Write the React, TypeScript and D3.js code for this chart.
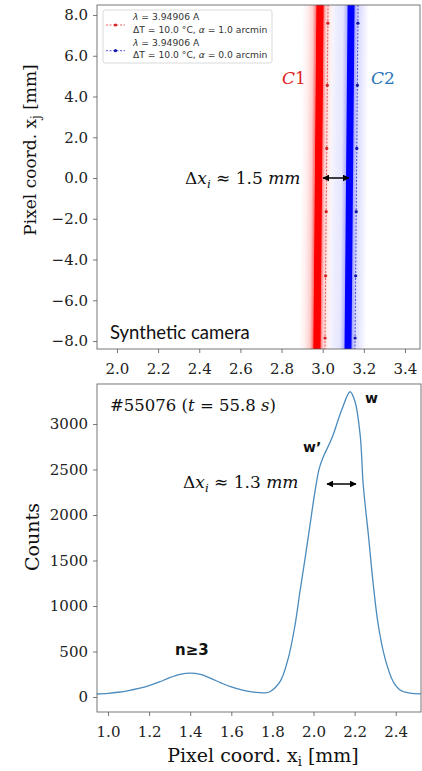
import * as d3 from 'd3'
import { useEffect, useRef } from 'react'

const W = 422
const H = 771

// top panel: synthetic camera image
const topXTicks = [2.0, 2.2, 2.4, 2.6, 2.8, 3.0, 3.2, 3.4]
const topYTicks = [-8, -6, -4, -2, 0, 2, 4, 6, 8]
const imageY = [8.49, -8.39] // top / bottom of camera image
const c1Core = [2.987, 2.972] // x of line C1 at top / bottom
const c2Core = [3.138, 3.123]
const c1Fit = [3.026, 3.011]
const c2Fit = [3.172, 3.157]
const fitMarkersY = [7.6, 4.55, 1.45, -1.65, -4.8, -7.85]
const legendRows = [
    { line1: '= 3.94906 A', line2: 'ΔT = 10.0 °C, ', alpha: '= 1.0 arcmin', color: '#e8383a', dot: '#d62020' },
    { line1: '= 3.94906 A', line2: 'ΔT = 10.0 °C, ', alpha: '= 0.0 arcmin', color: '#2a2ad0', dot: '#1515a8' },
]

// bottom panel: measured profile
const profileX = [0.946, 1.0, 1.05, 1.1, 1.15, 1.2, 1.25, 1.3, 1.35, 1.4, 1.45, 1.5, 1.55, 1.6, 1.65, 1.7,
    1.76, 1.788, 1.837, 1.877, 1.91, 1.934, 1.959, 1.983, 2.007, 2.028, 2.048, 2.089, 2.137, 2.178,
    2.202, 2.227, 2.242, 2.267, 2.291, 2.315, 2.348, 2.388, 2.421, 2.47, 2.523]
const profileCounts = [33, 40, 52, 70, 94, 125, 165, 212, 248, 263, 248, 205, 155, 110, 78, 56,
    45, 58, 168, 425, 791, 1157, 1524, 1890, 2256, 2513, 2641, 2843, 3154, 3355,
    3245, 2879, 2330, 1780, 1231, 791, 425, 168, 77, 42, 35]
const botXTicks = [1.0, 1.2, 1.4, 1.6, 1.8, 2.0, 2.2, 2.4]
const botYTicks = [0, 500, 1000, 1500, 2000, 2500, 3000]

const SERIF = '"DejaVu Serif", serif'
const SANS = '"DejaVu Sans", sans-serif'

// glow profiles of the two lines: [px offset from centre, opacity]
const redGlow = [[-18, 0], [-12, 0.07], [-7, 0.2], [-4, 0.55], [-3.2, 1], [3.2, 1], [4, 0.5], [6, 0.2], [10, 0.08], [14, 0]]
const blueGlow = [[-20, 0], [-16, 0.06], [-8, 0.1], [-4, 0.3], [-3, 1], [3, 1], [4, 0.35], [7, 0.15], [13, 0.07], [18, 0]]

const mathText = (sel, x, y, size, parts, color = '#111') => {
    const t = sel.append('text').attr('x', x).attr('y', y)
        .attr('font-family', SERIF).attr('font-size', size).attr('fill', color)
    parts.forEach(p => {
        const s = t.append('tspan').text(p.t)
        if (p.it) s.attr('font-style', 'italic')
        if (p.sub) s.attr('font-size', size * 0.7).attr('dy', size * 0.25)
        if (p.up) s.attr('dy', -size * 0.25)
    })
    return t
}

export default function App() {
    const svgRef = useRef(null)

    useEffect(() => {
        const svg = d3.select(svgRef.current)
        svg.selectAll('*').remove()
        const defs = svg.append('defs')

        defs.append('marker')
            .attr('id', 'arrow')
            .attr('viewBox', '0 0 10 10')
            .attr('refX', 9).attr('refY', 5)
            .attr('markerWidth', 7).attr('markerHeight', 7)
            .attr('markerUnits', 'userSpaceOnUse')
            .attr('orient', 'auto-start-reverse')
            .append('path').attr('d', 'M0,0L10,5L0,10z').attr('fill', '#000')

        // ---------- top panel ----------
        const tx = d3.scaleLinear().domain([1.903, 3.473]).range([97, 420])
        const ty = d3.scaleLinear().domain(imageY.slice().reverse()).range([349, 5])
        const top = svg.append('g')

        defs.append('clipPath').attr('id', 'clipTop')
            .append('rect').attr('x', 97).attr('y', 5).attr('width', 323).attr('height', 344)
        const img = top.append('g').attr('clip-path', 'url(#clipTop)')

        const bands = [
            { id: 'gC2', core: c2Core, glow: blueGlow, color: '#0000ff' },
            { id: 'gC1', core: c1Core, glow: redGlow, color: '#ff0000' },
        ]
        bands.forEach(b => {
            const hw = 22
            const grad = defs.append('linearGradient').attr('id', b.id)
            b.glow.forEach(([o, a]) => {
                grad.append('stop').attr('offset', (o + hw) / (2 * hw))
                    .attr('stop-color', b.color).attr('stop-opacity', a)
            })
            const xT = tx(b.core[0]), xB = tx(b.core[1])
            const yT = ty(imageY[0]), yB = ty(imageY[1])
            const ang = Math.atan((xT - xB) / (yT - yB)) * 180 / Math.PI
            img.append('g').attr('transform', `translate(${xB},${yB}) skewX(${ang})`)
                .append('rect')
                .attr('x', -hw).attr('y', yT - yB)
                .attr('width', 2 * hw).attr('height', yB - yT)
                .attr('fill', `url(#${b.id})`)
        })

        const fits = [
            { fit: c1Fit, color: legendRows[0].color, dot: legendRows[0].dot },
            { fit: c2Fit, color: legendRows[1].color, dot: legendRows[1].dot },
        ]
        fits.forEach(f => {
            const fx = d3.scaleLinear().domain(imageY).range(f.fit)
            img.append('line')
                .attr('x1', tx(f.fit[0])).attr('y1', ty(imageY[0]))
                .attr('x2', tx(f.fit[1])).attr('y2', ty(imageY[1]))
                .attr('stroke', f.color).attr('stroke-width', 0.8)
                .attr('stroke-dasharray', '2,1.5')
            img.selectAll(null).data(fitMarkersY).join('circle')
                .attr('cx', d => tx(fx(d))).attr('cy', d => ty(d))
                .attr('r', 1.6).attr('fill', f.dot)
        })

        top.append('rect').attr('x', 97).attr('y', 5).attr('width', 323).attr('height', 344)
            .attr('fill', 'none').attr('stroke', '#555').attr('stroke-width', 0.8)

        const styleAxis = g => {
            g.select('.domain').remove()
            g.selectAll('line').attr('stroke', '#555').attr('stroke-width', 0.8)
            g.selectAll('text').attr('fill', '#222')
            g.attr('font-family', SERIF).attr('font-size', 15)
        }

        top.append('g').attr('transform', 'translate(0,349)')
            .call(d3.axisBottom(tx).tickValues(topXTicks).tickFormat(d3.format('.1f')).tickSize(4).tickPadding(10))
            .call(styleAxis)
        top.append('g').attr('transform', 'translate(97,0)')
            .call(d3.axisLeft(ty).tickValues(topYTicks).tickFormat(d3.format('.1f')).tickSize(4).tickPadding(5))
            .call(styleAxis)

        top.append('text')
            .attr('transform', 'translate(36,150) rotate(-90)')
            .attr('text-anchor', 'middle')
            .attr('font-family', SERIF).attr('font-size', 17).attr('fill', '#111')
            .call(t => {
                t.append('tspan').text('Pixel coord. x')
                t.append('tspan').text('j').attr('font-size', 12).attr('dy', 4)
                t.append('tspan').text(' [mm]').attr('dy', -4)
            })

        // legend
        const lg = top.append('g')
        lg.append('rect').attr('x', 103).attr('y', 10).attr('width', 169).attr('height', 53)
            .attr('rx', 2).attr('fill', '#fff').attr('fill-opacity', 0.85)
            .attr('stroke', '#d0d0d0').attr('stroke-width', 0.8)
        legendRows.forEach((r, i) => {
            const cy = 25 + i * 25.7
            lg.append('line').attr('x1', 106).attr('x2', 125).attr('y1', cy).attr('y2', cy)
                .attr('stroke', r.color).attr('stroke-width', 0.8).attr('stroke-dasharray', '2,1.5')
            lg.append('circle').attr('cx', 115.5).attr('cy', cy).attr('r', 1.6).attr('fill', r.dot)
            const t1 = lg.append('text').attr('x', 133).attr('y', cy - 5)
                .attr('font-family', SANS).attr('font-size', 9.2).attr('fill', '#333')
            t1.append('tspan').text('λ ').attr('font-style', 'italic')
            t1.append('tspan').text(r.line1)
            const t2 = lg.append('text').attr('x', 133).attr('y', cy + 7.5)
                .attr('font-family', SANS).attr('font-size', 9.2).attr('fill', '#333')
            t2.append('tspan').text(r.line2)
            t2.append('tspan').text('α ').attr('font-style', 'italic')
            t2.append('tspan').text(r.alpha)
        })

        mathText(top, 282, 84, 17, [{ t: 'C', it: true }, { t: '1' }], '#e0201c')
        mathText(top, 371, 84, 17, [{ t: 'C', it: true }, { t: '2' }], '#2a74b8')

        mathText(top, 185, 184, 17, [
            { t: 'Δ' }, { t: 'x', it: true }, { t: 'i', it: true, sub: true },
            { t: ' ≈ 1.5 ', up: true }, { t: 'mm', it: true },
        ])
        top.append('line').attr('x1', 323).attr('x2', 349).attr('y1', 178).attr('y2', 178)
            .attr('stroke', '#000').attr('stroke-width', 1.5)
            .attr('marker-start', 'url(#arrow)').attr('marker-end', 'url(#arrow)')

        top.append('text').attr('x', 110).attr('y', 339)
            .attr('font-family', 'Lato, sans-serif').attr('font-size', 18.5).attr('fill', '#111')
            .text('Synthetic camera')

        // ---------- bottom panel ----------
        const bx = d3.scaleLinear().domain([0.9465, 2.523]).range([97, 421])
        const by = d3.scaleLinear().domain([-165, 3440]).range([712, 384])
        const bot = svg.append('g')

        const data = profileX.map((x, i) => ({ x, c: profileCounts[i] }))
        const line = d3.line().x(d => bx(d.x)).y(d => by(d.c)).curve(d3.curveCatmullRom.alpha(0.5))
        bot.append('path').datum(data)
            .attr('fill', 'none').attr('stroke', '#4a8bbd').attr('stroke-width', 1.3)
            .attr('d', line)

        bot.append('rect').attr('x', 97).attr('y', 384).attr('width', 324).attr('height', 328)
            .attr('fill', 'none').attr('stroke', '#555').attr('stroke-width', 0.8)

        bot.append('g').attr('transform', 'translate(0,712)')
            .call(d3.axisBottom(bx).tickValues(botXTicks).tickFormat(d3.format('.1f')).tickSize(4).tickPadding(10))
            .call(styleAxis)
        bot.append('g').attr('transform', 'translate(97,0)')
            .call(d3.axisLeft(by).tickValues(botYTicks).tickFormat(d3.format('d')).tickSize(4).tickPadding(5))
            .call(styleAxis)

        bot.append('text').attr('x', 263).attr('y', 762).attr('text-anchor', 'middle')
            .attr('font-family', SERIF).attr('font-size', 19).attr('fill', '#111')
            .call(t => {
                t.append('tspan').text('Pixel coord. x')
                t.append('tspan').text('i').attr('font-size', 13).attr('dy', 4)
                t.append('tspan').text(' [mm]').attr('dy', -4)
            })
        bot.append('text')
            .attr('transform', 'translate(39,537) rotate(-90)')
            .attr('text-anchor', 'middle')
            .attr('font-family', SERIF).attr('font-size', 19).attr('fill', '#111')
            .text('Counts')

        mathText(bot, 110, 411, 16.5, [
            { t: '#55076  (' }, { t: 't', it: true }, { t: ' = 55.8 ' }, { t: 's', it: true }, { t: ')' },
        ])
        mathText(bot, 183, 488, 17, [
            { t: 'Δ' }, { t: 'x', it: true }, { t: 'i', it: true, sub: true },
            { t: ' ≈ 1.3 ', up: true }, { t: 'mm', it: true },
        ])
        bot.append('line').attr('x1', 327).attr('x2', 356).attr('y1', 484).attr('y2', 484)
            .attr('stroke', '#000').attr('stroke-width', 1.5)
            .attr('marker-start', 'url(#arrow)').attr('marker-end', 'url(#arrow)')

        const lbl = (x, y, s, size) => bot.append('text').attr('x', x).attr('y', y)
            .attr('font-family', SANS).attr('font-weight', 'bold').attr('font-size', size)
            .attr('fill', '#111').text(s)
        lbl(365, 403, 'w', 14)
        lbl(303, 452, 'w’', 14)
        lbl(175, 655, 'n≥3', 15)
    }, [])

    return (
        <svg ref={svgRef} width={W} height={H}
            style={{ position: 'absolute', left: 0, top: 0, background: '#fff' }} />
    )
}
